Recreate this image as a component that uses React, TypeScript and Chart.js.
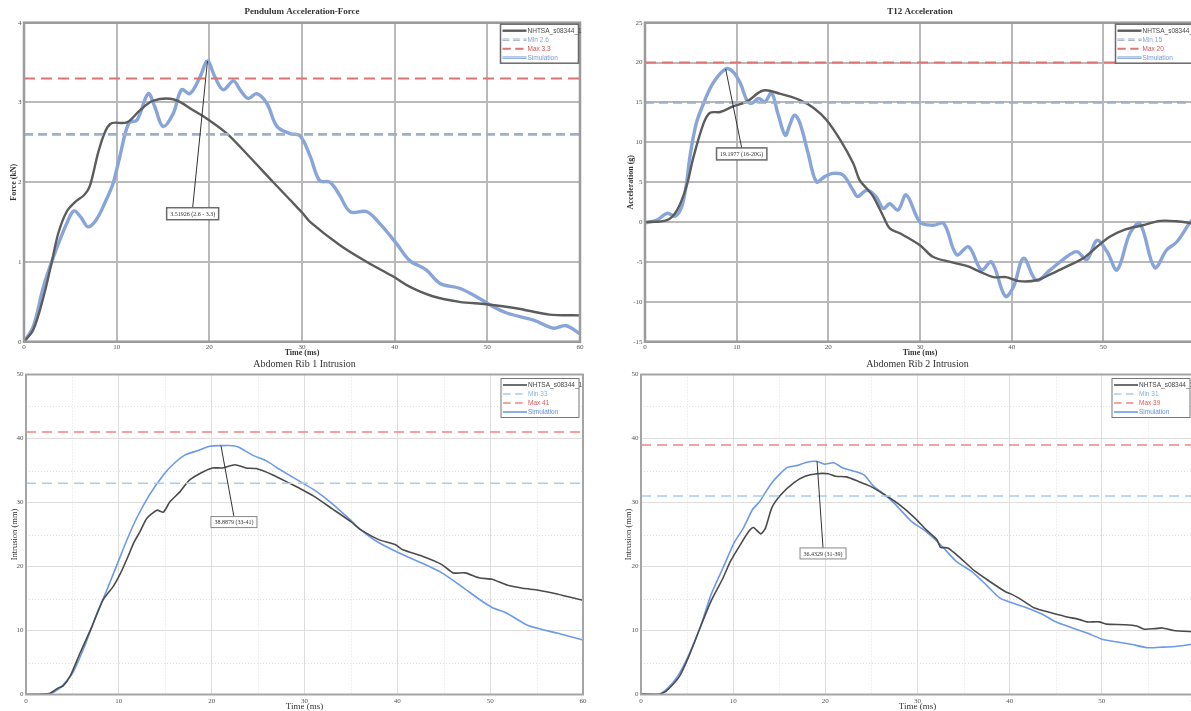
import React, { useEffect, useRef } from "react";
import { Chart, registerables } from "chart.js";

Chart.register(...registerables);

type Pt = [number, number];

// ---------- DATA ----------
const timeTicks = [0, 10, 20, 30, 40, 50, 60];

// Pendulum Acceleration-Force (kN)
const pendulumNhtsa: Pt[] = [
  [0, 0], [1, 0.15], [2.1, 0.56], [3, 1.0], [3.7, 1.36], [4.6, 1.63], [5.5, 1.75], [6.5, 1.84], [7.1, 1.95],
  [8.2, 2.45], [9.3, 2.73], [11.1, 2.75], [12.5, 2.9], [13.9, 3.02], [16.1, 3.04], [18.3, 2.9], [19.7, 2.8],
  [21.9, 2.61], [24.0, 2.36], [26.9, 2.0], [28.7, 1.78], [30, 1.62], [30.9, 1.5], [34.1, 1.21], [37, 1.0],
  [39.8, 0.82], [41.6, 0.69], [44.1, 0.57], [47, 0.5], [49.9, 0.47], [53.1, 0.42], [56.7, 0.34], [60, 0.33],
];
const pendulumSim: Pt[] = [
  [0, 0], [1, 0.19], [2.1, 0.69], [3.2, 1.07], [4.6, 1.48], [5.4, 1.64], [6.2, 1.55], [6.9, 1.44], [7.8, 1.53],
  [8.8, 1.76], [9.6, 1.98], [10.3, 2.3], [11.3, 2.74], [12.2, 2.78], [13.4, 3.11], [14.1, 2.95], [15.0, 2.7],
  [16.1, 2.86], [17.0, 3.16], [17.9, 3.11], [19.0, 3.32], [19.8, 3.52], [20.6, 3.32], [21.5, 3.16], [22.6, 3.27],
  [23.3, 3.16], [24.2, 3.05], [25.1, 3.11], [26.2, 2.99], [27.3, 2.7], [28.7, 2.61], [29.8, 2.58], [30.9, 2.32],
  [31.9, 2.02], [33.0, 2.0], [34.0, 1.85], [35.2, 1.63], [37, 1.63], [38.4, 1.48], [40.2, 1.23], [41.6, 1.02],
  [43.4, 0.9], [44.9, 0.73], [47, 0.67], [49.2, 0.54], [50.3, 0.46], [52.1, 0.36], [55, 0.27], [57.1, 0.17],
  [58.5, 0.2], [60, 0.1],
];
const pendulumLimits = [2.6, 3.3];
const pendulumPeak: Pt = [19.8, 3.51926];
const pendulumNote = "3.51926 (2.6 - 3.3)";

// T12 Acceleration (g)
const t12Nhtsa: Pt[] = [
  [0, 0], [2.4, 0.25], [3.5, 1.5], [4.5, 4.4], [5.3, 8.2], [6.4, 12.4], [7.1, 13.7], [8.2, 13.8], [9.6, 14.5],
  [11.1, 15.1], [12.9, 16.5], [14.7, 16.1], [16.9, 15.3], [18.4, 14.3], [19.8, 12.8], [21.3, 10.3], [22.7, 7.4],
  [23.4, 5.3], [24.2, 4.2], [24.9, 3.2], [26, 0.7], [26.7, -0.8], [27.8, -1.4], [30, -2.9], [31.4, -4.35],
  [33.3, -5.0], [35.1, -5.5], [36.5, -6.2], [38, -6.9], [39.4, -6.9], [40.8, -7.4], [42.7, -7.3], [44.5, -6.4],
  [46.3, -5.4], [47.8, -4.55], [49.3, -3.1], [50.7, -1.85], [52.2, -1.0], [54.3, -0.4], [56.2, 0.15], [58, 0.1],
  [60, -0.2],
];
const t12Sim: Pt[] = [
  [0, -0.1], [1.3, 0.25], [2.4, 1.1], [3.3, 0.75], [4.0, 1.9], [4.5, 4.6], [4.9, 8.2], [5.6, 12.4], [6.4, 14.9],
  [7.4, 17.4], [8.8, 19.2], [9.6, 18.85], [10.4, 17.4], [11.1, 15.3], [11.6, 14.9], [12.4, 15.5], [13.1, 15.1],
  [13.8, 16.2], [14.5, 13.6], [15.3, 10.9], [15.8, 12.2], [16.3, 13.4], [16.9, 12.4], [17.8, 8.6], [18.7, 5.05],
  [19.6, 5.7], [20.5, 6.1], [21.6, 5.9], [22.7, 4.0], [23.2, 3.2], [24.2, 4.0], [25.2, 3.2], [26, 1.7],
  [26.7, 2.3], [27.6, 1.5], [28.5, 3.4], [30, 0], [31.4, -0.4], [32.6, -0.2], [34, -4.1], [35.3, -3.1],
  [36.7, -6.0], [37.8, -5.0], [39.3, -9.3], [40.2, -8.1], [41.3, -4.55], [42.7, -7.3], [44.2, -6.0],
  [45.6, -4.7], [47.1, -3.7], [48.2, -4.7], [49.3, -2.3], [50.4, -3.7], [51.5, -6.0], [52.9, -1.4],
  [54.0, -0.2], [55.6, -5.7], [56.9, -3.5], [58.0, -2.5], [59.5, 0], [60, 0.5],
];
const t12Limits = [15, 20];
const t12Peak: Pt = [8.8, 19.1977];
const t12Note = "19.1977 (16-20G)";

// Abdomen Rib 1 Intrusion (mm)
const rib1Nhtsa: Pt[] = [
  [0, 0], [2.5, 0.15], [3.4, 0.95], [4.0, 1.35], [4.8, 3.0], [5.8, 6.4], [7.1, 10.6], [8.3, 14.8], [9.4, 16.9],
  [10.2, 19.0], [11.0, 21.6], [11.6, 23.7], [12.3, 25.5], [13, 27.5], [14.1, 28.8], [14.8, 28.5], [15.5, 30.1],
  [16.6, 31.7], [17.6, 33.5], [19.1, 34.8], [20.1, 35.4], [21.2, 35.4], [22.5, 35.9], [23.7, 35.4], [24.8, 35.3],
  [26.6, 34.3], [28.4, 33.0], [29.5, 32.2], [31, 31.0], [33, 29.0], [35, 27.0], [36, 25.8], [38, 24.2],
  [39.8, 23.4], [40.6, 22.6], [42.7, 21.6], [44.8, 20.3], [46.0, 19.0], [47.3, 19.0], [48.9, 18.2], [50.2, 18.0],
  [51.8, 17.1], [53.5, 16.6], [55.2, 16.3], [57.2, 15.7], [60, 14.7],
];
const rib1Sim: Pt[] = [
  [0, 0], [2.5, 0], [3.8, 1.2], [5.0, 3.3], [6.3, 7.5], [7.5, 12.2], [8.7, 16.3], [10.0, 21.0], [11.0, 24.6],
  [11.9, 27.5], [13.3, 31.2], [14.8, 34.3], [15.8, 35.9], [17.1, 37.4], [18.7, 38.2], [19.8, 38.8], [21.0, 38.89],
  [21.9, 38.9], [22.8, 38.7], [24.4, 37.4], [25.9, 36.5], [27.3, 35.2], [29.5, 33.3], [31, 32.0], [33, 29.8],
  [35, 27.2], [36, 25.8], [37.8, 23.9], [40.2, 22.1], [42.7, 20.5], [44.8, 19.0], [46.9, 16.9], [48.9, 14.8],
  [50.2, 13.6], [51.8, 12.7], [53.9, 10.9], [55.2, 10.3], [57.2, 9.6], [60, 8.5],
];
const rib1Limits = [33, 41];
const rib1Peak: Pt = [21.0, 38.8879];
const rib1Note = "38.8879 (33-41)";

// Abdomen Rib 2 Intrusion (mm)
const rib2Nhtsa: Pt[] = [
  [0, 0.1], [1.9, 0.05], [2.7, 0.5], [3.6, 1.8], [4.2, 2.9], [5.2, 6.0], [6.4, 10.4], [7.6, 14.6], [8.9, 18.2],
  [9.7, 20.8], [10.9, 23.7], [11.7, 25.5], [12.2, 26.1], [13.0, 25.1], [13.5, 26.0], [14.2, 29.2], [15.2, 31.25],
  [16.6, 33.1], [17.8, 34.1], [19.1, 34.5], [20.3, 34.5], [21.1, 34.1], [22.3, 34.0], [23.6, 33.3], [24.8, 32.6],
  [26.4, 31.25], [28.0, 29.7], [29.7, 27.6], [30.9, 25.8], [32.1, 24.2], [32.5, 23.0], [33.3, 22.9], [34.6, 21.4],
  [36.2, 19.3], [37.8, 17.7], [39.5, 16.1], [40.3, 15.6], [41.5, 14.6], [42.7, 13.5], [44.4, 12.8], [46, 12.2],
  [47.6, 11.7], [48.4, 11.35], [49.7, 11.35], [50.5, 11.0], [52.5, 10.9], [53.8, 10.7], [54.6, 10.2],
  [55.8, 10.3], [56.6, 10.4], [57.8, 10.0], [60, 9.8],
];
const rib2Sim: Pt[] = [
  [0, 0.1], [1.9, 0], [2.9, 1.0], [4, 2.9], [5.2, 6.25], [6.4, 10.4], [7.6, 15.6], [8.9, 19.8], [10.1, 23.7],
  [11.1, 26.0], [12.1, 28.9], [12.9, 30.2], [14.2, 33.1], [15.8, 35.4], [17.0, 35.8], [18.0, 36.3], [19.1, 36.43],
  [19.9, 36.0], [20.9, 36.2], [21.9, 35.4], [23.1, 34.9], [24.2, 34.3], [25.2, 32.6], [26.4, 31.25], [27.6, 29.7],
  [29.3, 27.1], [30.9, 25.5], [32.5, 23.4], [34.2, 20.8], [35.8, 19.3], [37.4, 17.2], [38.9, 15.1], [40.3, 14.3],
  [41.9, 13.5], [43.6, 12.5], [44.8, 11.5], [46.8, 10.4], [48.4, 9.6], [50.1, 8.6], [51.7, 8.2], [53.3, 7.8],
  [55, 7.3], [56.6, 7.4], [58.2, 7.55], [60, 7.9],
];
const rib2Limits = [31, 39];
const rib2Peak: Pt = [19.1, 36.4329];
const rib2Note = "36.4329 (31-39)";

const testLabel = "NHTSA_s08344_1";
const simLabel = "Simulation";

// ---------- LAYOUT / STYLE ----------
type Kind = "top" | "bottom";
interface Spec {
  key: string;
  kind: Kind;
  left: number; top: number; w: number; h: number;
  area: { l: number; r: number; t: number; b: number };
  yMin: number; yMax: number; yStep: number;
  title: string; titleY: number;
  xTitle: string; xTitleY: number;
  yTitle: string; yTitleX: number;
  nhtsa: Pt[]; sim: Pt[]; limits: number[]; limitNames: string[];
  peak: Pt; note: string; noteAt: Pt;
}

const specs: Spec[] = [
  {
    key: "tl", kind: "top", left: 0, top: 0, w: 600, h: 360,
    area: { l: 24, r: 580, t: 22.7, b: 341.7 }, yMin: 0, yMax: 4, yStep: 1,
    title: "Pendulum Acceleration-Force", titleY: 12, xTitle: "Time (ms)", xTitleY: 353,
    yTitle: "Force (kN)", yTitleX: 14,
    nhtsa: pendulumNhtsa, sim: pendulumSim, limits: pendulumLimits, limitNames: ["Min 2.6", "Max 3.3"],
    peak: pendulumPeak, note: pendulumNote, noteAt: [18.2, 1.68],
  },
  {
    key: "tr", kind: "top", left: 600, top: 0, w: 600, h: 360,
    area: { l: 45, r: 595, t: 22.7, b: 341.7 }, yMin: -15, yMax: 25, yStep: 5,
    title: "T12 Acceleration", titleY: 12, xTitle: "Time (ms)", xTitleY: 353,
    yTitle: "Acceleration (g)", yTitleX: 31,
    nhtsa: t12Nhtsa, sim: t12Sim, limits: t12Limits, limitNames: ["Min 15", "Max 20"],
    peak: t12Peak, note: t12Note, noteAt: [10.55, 9.3],
  },
  {
    key: "bl", kind: "bottom", left: 0, top: 355, w: 600, h: 356,
    area: { l: 26, r: 583, t: 19.5, b: 339.5 }, yMin: 0, yMax: 50, yStep: 10,
    title: "Abdomen Rib 1 Intrusion", titleY: 9, xTitle: "Time (ms)", xTitleY: 351.5,
    yTitle: "Intrusion (mm)", yTitleX: 15,
    nhtsa: rib1Nhtsa, sim: rib1Sim, limits: rib1Limits, limitNames: ["Min 33", "Max 41"],
    peak: rib1Peak, note: rib1Note, noteAt: [22.4, 27.8],
  },
  {
    key: "br", kind: "bottom", left: 600, top: 355, w: 600, h: 356,
    area: { l: 41, r: 596, t: 19.5, b: 339.5 }, yMin: 0, yMax: 50, yStep: 10,
    title: "Abdomen Rib 2 Intrusion", titleY: 9, xTitle: "Time (ms)", xTitleY: 351.5,
    yTitle: "Intrusion (mm)", yTitleX: 29,
    nhtsa: rib2Nhtsa, sim: rib2Sim, limits: rib2Limits, limitNames: ["Min 31", "Max 39"],
    peak: rib2Peak, note: rib2Note, noteAt: [19.75, 22.9],
  },
];

interface LineStyle { color: string; width: number; dash: number[]; inner?: string; innerWidth?: number; text: string }

const styles: Record<Kind, { nhtsa: LineStyle; min: LineStyle; max: LineStyle; sim: LineStyle }> = {
  top: {
    nhtsa: { color: "#5c5c5c", width: 2.4, dash: [], text: "#4a4a4a" },
    min: { color: "#9fb0c8", width: 2.6, dash: [9, 5], inner: "#e4ebf5", innerWidth: 0.8, text: "#8aa6d0" },
    max: { color: "#dc7474", width: 2, dash: [11, 6], text: "#d05555" },
    sim: { color: "#88a5d9", width: 3.4, dash: [], inner: "#d3dff3", innerWidth: 1, text: "#7898d4" },
  },
  bottom: {
    nhtsa: { color: "#4b4b4b", width: 1.6, dash: [], text: "#444444" },
    min: { color: "#a8cdee", width: 1.5, dash: [10, 6], text: "#7fb3e3" },
    max: { color: "#ef8282", width: 1.5, dash: [10, 6], text: "#e25858" },
    sim: { color: "#6c9ae8", width: 1.6, dash: [], text: "#5f8fe0" },
  },
};

const serif = "'Liberation Serif', 'DejaVu Serif', serif";

function toXY(p: Pt[]) {
  return p.map(([x, y]) => ({ x, y }));
}

function lineDs(data: Pt[], st: LineStyle, tension: number, inner: boolean) {
  return {
    data: toXY(data),
    borderColor: inner ? st.inner : st.color,
    borderWidth: inner ? st.innerWidth : st.width,
    borderDash: st.dash,
    pointRadius: 0,
    tension,
    fill: false,
  };
}

function makeDecor(s: Spec) {
  const st = styles[s.kind];
  const legendItems: LineStyle[] = [st.nhtsa, st.min, st.max, st.sim];
  const legendNames = [testLabel, s.limitNames[0], s.limitNames[1], simLabel];
  return {
    id: "decor_" + s.key,
    beforeDatasetsDraw(chart: any) {
      if (s.kind !== "bottom") return;
      const { ctx, chartArea: a, scales } = chart;
      ctx.save();
      ctx.strokeStyle = "#e2e2e2";
      ctx.lineWidth = 1;
      ctx.setLineDash([1, 2]);
      for (let t = 5; t < 60; t += 10) {
        const x = Math.round(scales.x.getPixelForValue(t)) + 0.5;
        ctx.beginPath(); ctx.moveTo(x, a.top); ctx.lineTo(x, a.bottom); ctx.stroke();
      }
      for (let v = s.yMin + 5; v < s.yMax; v += 10) {
        const y = Math.round(scales.y.getPixelForValue(v)) + 0.5;
        ctx.beginPath(); ctx.moveTo(a.left, y); ctx.lineTo(a.right, y); ctx.stroke();
      }
      ctx.restore();
    },
    afterDatasetsDraw(chart: any) {
      const { ctx, chartArea: a, scales } = chart;
      ctx.save();
      // frame
      ctx.setLineDash([]);
      ctx.strokeStyle = s.kind === "top" ? "#9b9b9b" : "#a5a5a5";
      ctx.lineWidth = s.kind === "top" ? 2.5 : 2;
      ctx.strokeRect(a.left, a.top, a.right - a.left, a.bottom - a.top);

      // annotation
      const px = scales.x.getPixelForValue(s.peak[0]);
      const py = scales.y.getPixelForValue(s.peak[1]);
      const bx = scales.x.getPixelForValue(s.noteAt[0]);
      const by = scales.y.getPixelForValue(s.noteAt[1]);
      ctx.strokeStyle = "#333";
      ctx.lineWidth = 1;
      ctx.beginPath(); ctx.moveTo(px, py); ctx.lineTo(bx, by); ctx.stroke();
      ctx.font = `6px ${serif}`;
      const tw = ctx.measureText(s.note).width;
      const bw = tw + 7, bh = s.kind === "top" ? 12 : 11;
      ctx.fillStyle = "#fff";
      ctx.fillRect(bx - bw / 2, by, bw, bh);
      ctx.strokeStyle = s.kind === "top" ? "#6a6a6a" : "#888";
      ctx.lineWidth = s.kind === "top" ? 1.5 : 1;
      ctx.strokeRect(bx - bw / 2, by, bw, bh);
      ctx.fillStyle = "#333";
      ctx.textAlign = "center";
      ctx.textBaseline = "middle";
      ctx.fillText(s.note, bx, by + bh / 2 + 0.5);

      // legend
      const gap = s.kind === "top" ? 1.5 : 4;
      const lw = 78, lh = 39;
      const lx = a.right - gap - lw, ly = a.top + gap;
      ctx.fillStyle = "#fff";
      ctx.fillRect(lx, ly, lw, lh);
      ctx.strokeStyle = s.kind === "top" ? "#6a6a6a" : "#777";
      ctx.lineWidth = s.kind === "top" ? 1.5 : 1;
      ctx.strokeRect(lx, ly, lw, lh);
      ctx.font = `6.5px 'Liberation Sans', 'DejaVu Sans', sans-serif`;
      ctx.textAlign = "left";
      legendItems.forEach((it, i) => {
        const y = ly + 6.5 + i * 9;
        ctx.setLineDash(it.dash.map((d) => d * 0.75));
        ctx.strokeStyle = it.color;
        ctx.lineWidth = Math.min(it.width, 2.6);
        ctx.beginPath(); ctx.moveTo(lx + 2, y); ctx.lineTo(lx + 26, y); ctx.stroke();
        if (it.inner) {
          ctx.strokeStyle = it.inner;
          ctx.lineWidth = it.innerWidth || 1;
          ctx.beginPath(); ctx.moveTo(lx + 2, y); ctx.lineTo(lx + 26, y); ctx.stroke();
        }
        ctx.setLineDash([]);
        ctx.fillStyle = it.text;
        ctx.fillText(legendNames[i], lx + 27, y + 0.5);
      });
      ctx.restore();
    },
    afterDraw(chart: any) {
      const { ctx, chartArea: a } = chart;
      const cx = (a.left + a.right) / 2;
      const cy = (a.top + a.bottom) / 2;
      ctx.save();
      ctx.fillStyle = "#333";
      ctx.textAlign = "center";
      ctx.textBaseline = "middle";
      ctx.font = s.kind === "top" ? `bold 9px ${serif}` : `10px ${serif}`;
      ctx.fillText(s.title, cx, s.titleY);
      ctx.font = s.kind === "top" ? `bold 8px ${serif}` : `9px ${serif}`;
      ctx.fillText(s.xTitle, cx, s.xTitleY);
      ctx.translate(s.yTitleX, cy);
      ctx.rotate(-Math.PI / 2);
      ctx.font = s.kind === "top" ? `bold 8px ${serif}` : `8.5px ${serif}`;
      ctx.fillText(s.yTitle, 0, 0);
      ctx.restore();
    },
  };
}

function buildConfig(s: Spec): any {
  const st = styles[s.kind];
  const tension = s.kind === "top" ? 0.35 : 0.2;
  const minLine: Pt[] = [[timeTicks[0], s.limits[0]], [timeTicks[timeTicks.length - 1], s.limits[0]]];
  const maxLine: Pt[] = [[timeTicks[0], s.limits[1]], [timeTicks[timeTicks.length - 1], s.limits[1]]];
  const datasets: any[] = [];
  datasets.push(lineDs(minLine, st.min, 0, false));
  if (st.min.inner) datasets.push(lineDs(minLine, st.min, 0, true));
  datasets.push(lineDs(maxLine, st.max, 0, false));
  datasets.push(lineDs(s.nhtsa, st.nhtsa, tension, false));
  datasets.push(lineDs(s.sim, st.sim, tension, false));
  if (st.sim.inner) datasets.push(lineDs(s.sim, st.sim, tension, true));

  const gridTop = { color: "#b9b9b9", lineWidth: 2, drawTicks: false };
  const gridBottom = { color: "#dedede", lineWidth: 1, drawTicks: false };
  const tickFont = { family: serif, size: 7 };
  return {
    type: "line",
    data: { datasets },
    options: {
      animation: false,
      responsive: false,
      maintainAspectRatio: false,
      layout: { padding: { left: 0, top: s.area.t, right: s.w - s.area.r, bottom: 0 } },
      plugins: { legend: { display: false }, tooltip: { enabled: false }, title: { display: false } },
      scales: {
        x: {
          type: "linear",
          min: timeTicks[0],
          max: timeTicks[timeTicks.length - 1],
          afterBuildTicks: (scale: any) => { scale.ticks = timeTicks.map((v) => ({ value: v })); },
          ticks: { font: tickFont, color: "#555", padding: s.kind === "top" ? 1.5 : 2.5, maxRotation: 0, autoSkip: false },
          grid: s.kind === "top" ? gridTop : gridBottom,
          border: { display: false },
          afterFit: (scale: any) => { scale.height = s.h - s.area.b; },
        },
        y: {
          type: "linear",
          min: s.yMin,
          max: s.yMax,
          ticks: { stepSize: s.yStep, font: tickFont, color: "#555", padding: 2.5 },
          grid: s.kind === "top" ? gridTop : gridBottom,
          border: { display: false },
          afterFit: (scale: any) => { scale.width = s.area.l; },
        },
      },
    },
    plugins: [makeDecor(s)],
  };
}

function Panel({ s }: { s: Spec }) {
  const ref = useRef<HTMLCanvasElement>(null);
  useEffect(() => {
    if (!ref.current) return;
    const chart = new Chart(ref.current, buildConfig(s));
    return () => chart.destroy();
  }, [s]);
  return (
    <canvas
      ref={ref}
      width={s.w}
      height={s.h}
      style={{ position: "absolute", left: s.left, top: s.top, width: s.w, height: s.h }}
    />
  );
}

export default function App() {
  return (
    <div
      style={{
        position: "fixed",
        left: 0,
        top: 0,
        width: 1191,
        height: 711,
        overflow: "hidden",
        background: "#fff",
      }}
    >
      {specs.map((s) => (
        <Panel key={s.key} s={s} />
      ))}
    </div>
  );
}
